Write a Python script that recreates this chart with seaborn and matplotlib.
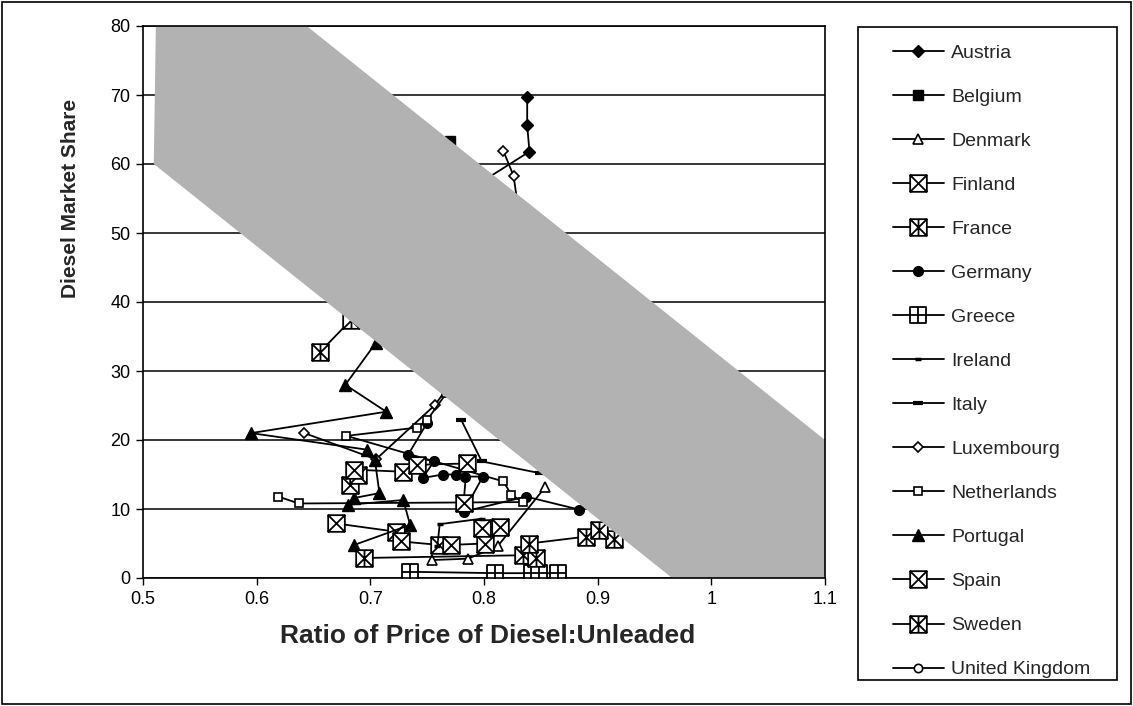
import matplotlib
matplotlib.use("Agg")
import matplotlib.pyplot as plt
from matplotlib.path import Path
from matplotlib.patches import Rectangle
import seaborn as sns

# ---------------- data ----------------
countries = ["Austria", "Belgium", "Denmark", "Finland", "France", "Germany", "Greece",
             "Ireland", "Italy", "Luxembourg", "Netherlands", "Portugal", "Spain",
             "Sweden", "United Kingdom"]

austria_x = [0.770, 0.840, 0.838, 0.838]
austria_y = [54.5, 61.8, 65.6, 69.7]
belgium_x = [0.738, 0.770]
belgium_y = [57.0, 63.3]
denmark_x = [0.754, 0.786, 0.812, 0.854]
denmark_y = [2.6, 2.8, 4.6, 13.2]
finland_x = [0.670, 0.723, 0.727, 0.760, 0.771, 0.801, 0.798, 0.814]
finland_y = [7.9, 6.7, 5.3, 4.8, 4.8, 5.0, 7.2, 7.4]
france_x = [0.656, 0.683, 0.700, 0.720]
france_y = [32.8, 37.4, 42.0, 45.5]
germany_x = [0.750, 0.733, 0.756, 0.746, 0.764, 0.775, 0.783, 0.799, 0.782, 0.837, 0.884]
germany_y = [22.5, 17.8, 16.9, 14.5, 15.0, 15.0, 14.7, 14.7, 9.6, 11.8, 9.9]
greece_x = [0.735, 0.810, 0.842, 0.848, 0.865]
greece_y = [0.9, 0.7, 0.7, 0.7, 0.7]
ireland_x = [0.759, 0.761, 0.798]
ireland_y = [4.6, 7.8, 8.6]
italy_x = [0.849, 0.798, 0.780]
italy_y = [15.2, 16.9, 22.9]
luxembourg_x = [0.642, 0.705, 0.757, 0.800, 0.835, 0.826, 0.817]
luxembourg_y = [21.0, 17.2, 25.1, 35.0, 48.0, 58.3, 61.9]
netherlands_x = [0.619, 0.637, 0.834, 0.824, 0.817, 0.679, 0.741, 0.750, 0.767, 0.800]
netherlands_y = [11.8, 10.8, 11.0, 12.1, 14.0, 20.6, 21.8, 22.9, 26.8, 32.0]
portugal_x = [0.686, 0.735, 0.729, 0.680, 0.686, 0.708, 0.704, 0.697, 0.595, 0.714, 0.678, 0.705]
portugal_y = [4.8, 7.7, 11.3, 10.6, 11.6, 12.3, 17.1, 18.6, 21.0, 24.1, 28.0, 34.1]
spain_x = [0.682, 0.689, 0.686, 0.729, 0.741, 0.785, 0.782]
spain_y = [13.5, 14.9, 15.7, 15.4, 16.4, 16.6, 10.8]
sweden_x = [0.694, 0.834, 0.846, 0.840, 0.890, 0.914, 0.901]
sweden_y = [2.9, 3.3, 2.9, 5.0, 6.0, 5.6, 7.0]
uk_x = [0.940, 0.970, 1.000, 1.030]
uk_y = [14.0, 16.5, 18.0, 17.0]

# shaded band (x, y vertices in data units)
band_x = [0.5113, 0.6440, 1.1, 1.1, 0.9655, 0.5095]
band_y = [80, 80, 20, 0, 0, 60]

x_ticks = [0.5, 0.6, 0.7, 0.8, 0.9, 1.0, 1.1]
x_tick_labels = ["0.5", "0.6", "0.7", "0.8", "0.9", "1", "1.1"]
y_ticks = [0, 10, 20, 30, 40, 50, 60, 70, 80]
y_tick_labels = ["0", "10", "20", "30", "40", "50", "60", "70", "80"]

series = {
    "Austria": (austria_x, austria_y), "Belgium": (belgium_x, belgium_y),
    "Denmark": (denmark_x, denmark_y), "Finland": (finland_x, finland_y),
    "France": (france_x, france_y), "Germany": (germany_x, germany_y),
    "Greece": (greece_x, greece_y), "Ireland": (ireland_x, ireland_y),
    "Italy": (italy_x, italy_y), "Luxembourg": (luxembourg_x, luxembourg_y),
    "Netherlands": (netherlands_x, netherlands_y), "Portugal": (portugal_x, portugal_y),
    "Spain": (spain_x, spain_y), "Sweden": (sweden_x, sweden_y),
    "United Kingdom": (uk_x, uk_y),
}

# ---------------- marker shapes ----------------
M, L, C = Path.MOVETO, Path.LINETO, Path.CLOSEPOLY


def box_marker(cross=False, vbar=False, plus=False):
    verts = [(-1, -1), (1, -1), (1, 1), (-1, 1), (-1, -1)]
    codes = [M, L, L, L, C]
    if cross:
        verts += [(-1, -1), (1, 1), (-1, 1), (1, -1)]
        codes += [M, L, M, L]
    if vbar:
        verts += [(0, -1), (0, 1)]
        codes += [M, L]
    if plus:
        verts += [(0, -1), (0, 1), (-1, 0), (1, 0)]
        codes += [M, L, M, L]
    return Path(verts, codes)


box_x = box_marker(cross=True)
box_star = box_marker(cross=True, vbar=True)
box_plus = box_marker(plus=True)

styles = {
    "Austria": dict(marker="D", ms=6.6, mfc="black", mew=1.0),
    "Belgium": dict(marker="s", ms=6.5, mfc="black", mew=1.0),
    "Denmark": dict(marker="^", ms=7.5, mfc="white", mew=1.2),
    "Finland": dict(marker=box_x, ms=12, mfc="white", mew=1.3),
    "France": dict(marker=box_star, ms=12, mfc="white", mew=1.3),
    "Germany": dict(marker="o", ms=7, mfc="black", mew=1.0),
    "Greece": dict(marker=box_plus, ms=12, mfc="white", mew=1.3),
    "Ireland": dict(marker="_", ms=5, mfc="black", mew=2.5),
    "Italy": dict(marker="_", ms=7, mfc="black", mew=3.0),
    "Luxembourg": dict(marker="D", ms=5, mfc="white", mew=1.2),
    "Netherlands": dict(marker="s", ms=6, mfc="white", mew=1.2),
    "Portugal": dict(marker="^", ms=9, mfc="black", mew=1.0),
    "Spain": dict(marker=box_x, ms=12, mfc="white", mew=1.3),
    "Sweden": dict(marker=box_star, ms=12, mfc="white", mew=1.3),
    "United Kingdom": dict(marker="o", ms=6, mfc="white", mew=1.2),
}

# ---------------- figure ----------------
sns.set_theme(style="white")
plt.rcParams["font.family"] = ["Liberation Sans", "DejaVu Sans"]

W, H = 1133, 706
fig = plt.figure(figsize=(W / 100, H / 100), dpi=100)
fig.patch.set_facecolor("white")
ax_l, ax_r, ax_t, ax_b = 143, 825, 26, 578
ax = fig.add_axes([ax_l / W, 1 - ax_b / H, (ax_r - ax_l) / W, (ax_b - ax_t) / H])
ax.set_facecolor("white")

for name in countries:
    xs, ys = series[name]
    st = styles[name]
    sns.lineplot(x=xs, y=ys, ax=ax, sort=False, estimator=None, color="black",
                 lw=1.3, marker=st["marker"], ms=st["ms"], mfc=st["mfc"],
                 mec="black", mew=st["mew"], label=name, legend=False, zorder=3)

ax.fill(band_x, band_y, color="#b2b2b2", lw=0, zorder=4)

ax.set_xlim(0.5, 1.1)
ax.set_ylim(0, 80)
ax.set_xticks(x_ticks)
ax.set_xticklabels(x_tick_labels)
ax.set_yticks(y_ticks)
ax.set_yticklabels(y_tick_labels)
ax.tick_params(axis="both", which="major", direction="out", length=5, width=1,
               color="black", labelsize=13, labelcolor="black", pad=4,
               bottom=True, left=True)
ax.yaxis.grid(True, color="black", lw=1.1)
ax.xaxis.grid(False)
ax.set_axisbelow(True)
for sp in ax.spines.values():
    sp.set_visible(True)
    sp.set_color("black")
    sp.set_linewidth(1.2)
    sp.set_zorder(6)
ax.set_xlabel("")
ax.set_ylabel("")

fig.text(488 / W, 1 - 636 / H, "Ratio of Price of Diesel:Unleaded",
         ha="center", va="center", fontsize=19, fontweight="bold")
fig.text(70 / W, 1 - 198 / H, "Diesel Market Share", rotation=90,
         ha="center", va="center", fontsize=15, fontweight="bold")

# legend
handles, labels = ax.get_legend_handles_labels()
fig.legend(handles, labels, loc="upper left",
           bbox_to_anchor=(893 / W, 1 - 44 / H), frameon=False, borderpad=0,
           fontsize=14, handlelength=2.6, handletextpad=0.4, labelspacing=1.36,
           numpoints=1, borderaxespad=0)
fig.add_artist(Rectangle((858 / W, 1 - 680 / H), (1117 - 858) / W, (680 - 27) / H,
                         transform=fig.transFigure, fill=False, ec="black", lw=1.2))
fig.add_artist(Rectangle((2 / W, 2 / H), (W - 4) / W, (H - 4) / H,
                         transform=fig.transFigure, fill=False, ec="black", lw=1.2))

fig.savefig("out.png", dpi=100, facecolor="white")
